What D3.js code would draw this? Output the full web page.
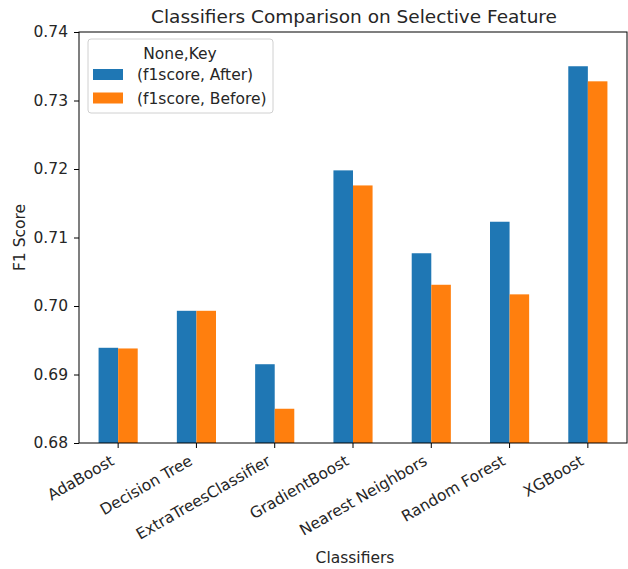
<!DOCTYPE html>
<html lang="en">
<head>
<meta charset="UTF-8">
<title>Classifiers Comparison</title>
<script src="https://d3js.org/d3.v7.min.js"></script>
<style>
  body {margin: 0; background: white;}
  text {font-family: "DejaVu Sans", sans-serif; fill: #262626;}
</style>
</head>
<body>
<div id="chart"></div>
<script>
// values
var classifiers = ["AdaBoost", "Decision Tree", "ExtraTreesClassifier", "GradientBoost",
                   "Nearest Neighbors", "Random Forest", "XGBoost"];
var after  = [0.6939, 0.6993, 0.6915, 0.7198, 0.7077, 0.7123, 0.7350];
var before = [0.6938, 0.6993, 0.6850, 0.7176, 0.7031, 0.7017, 0.7328];
var seriesNames = ["(f1score, After)", "(f1score, Before)"];
var colors = ["#1f77b4", "#ff7f0e"];
var yTicks = [0.68, 0.69, 0.70, 0.71, 0.72, 0.73, 0.74];

var W = 628, H = 569;
var margin = {top: 32, right: 1, bottom: 126, left: 79},
    width = W - margin.left - margin.right,
    height = H - margin.top - margin.bottom;

var svg = d3.select("#chart").append("svg")
    .attr("width", W).attr("height", H);

var g = svg.append("g")
    .attr("transform", "translate(" + margin.left + "," + margin.top + ")");

var x = d3.scaleBand().domain(classifiers).range([0, width]).paddingInner(0.5).paddingOuter(0.25);
var x1 = d3.scaleBand().domain([0, 1]).range([0, x.bandwidth()]);
var y = d3.scaleLinear().domain([0.68, 0.74]).range([height, 0]);

var rows = classifiers.map(function(c, i) { return {name: c, vals: [after[i], before[i]]}; });

g.append("g").selectAll("g")
    .data(rows)
    .enter().append("g")
    .attr("transform", function(d) { return "translate(" + x(d.name) + ",0)"; })
    .selectAll("rect")
    .data(function(d) { return d.vals; })
    .enter().append("rect")
    .attr("x", function(d, i) { return x1(i); })
    .attr("width", x1.bandwidth())
    .attr("y", function(d) { return y(d); })
    .attr("height", function(d) { return height - y(d); })
    .attr("fill", function(d, i) { return colors[i]; });

// axes
var yAxis = g.append("g")
    .call(d3.axisLeft(y).tickValues(yTicks).tickFormat(d3.format(".2f")).tickSize(5).tickPadding(6));
var xAxis = g.append("g")
    .attr("transform", "translate(0," + height + ")")
    .call(d3.axisBottom(x).tickSize(5));

[xAxis, yAxis].forEach(function(a) {
    a.select(".domain").remove();
    a.selectAll("line").attr("stroke", "#000").attr("stroke-width", 1);
    a.selectAll("text").style("font-size", "15.5px").attr("fill", "#262626");
});

xAxis.selectAll("text")
    .attr("text-anchor", "end")
    .attr("y", 0).attr("dy", 0)
    .attr("transform", "translate(-3,21) rotate(-30)");

// spines
g.append("rect")
    .attr("width", width).attr("height", height)
    .attr("fill", "none").attr("stroke", "#000").attr("stroke-width", 1);

// titles
svg.append("text")
    .attr("x", margin.left + width / 2 + 1).attr("y", 23)
    .attr("text-anchor", "middle")
    .style("font-size", "18.5px")
    .text("Classifiers Comparison on Selective Feature");

svg.append("text")
    .attr("x", margin.left + width / 2 + 2).attr("y", 563)
    .attr("text-anchor", "middle")
    .style("font-size", "15.5px")
    .text("Classifiers");

svg.append("text")
    .attr("transform", "translate(25," + (margin.top + height / 2) + ") rotate(-90)")
    .attr("text-anchor", "middle")
    .style("font-size", "15.5px")
    .text("F1 Score");

// legend
var lg = svg.append("g").attr("transform", "translate(88,39)");
lg.append("rect")
    .attr("width", 185).attr("height", 74).attr("rx", 3)
    .attr("fill", "white").attr("fill-opacity", 0.8)
    .attr("stroke", "#d0d0d0");
lg.append("text")
    .attr("x", 92).attr("y", 19.5)
    .attr("text-anchor", "middle")
    .style("font-size", "15.5px")
    .text("None,Key");
seriesNames.forEach(function(s, i) {
    lg.append("rect")
        .attr("x", 5).attr("y", 30 + i * 23.5)
        .attr("width", 30).attr("height", 11)
        .attr("fill", colors[i]);
    lg.append("text")
        .attr("x", 49).attr("y", 41 + i * 23.5)
        .style("font-size", "15.5px")
        .text(s);
});
</script>
</body>
</html>
